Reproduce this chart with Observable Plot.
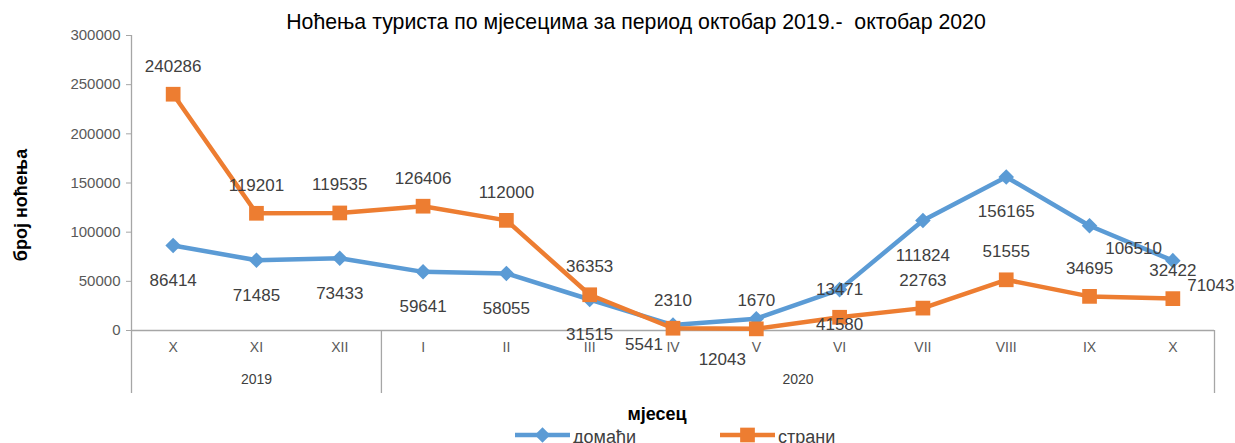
<!DOCTYPE html>
<html>
<head>
<meta charset="utf-8">
<script src="https://cdn.jsdelivr.net/npm/d3@7"></script>
<script src="https://cdn.jsdelivr.net/npm/@observablehq/plot@0.6"></script>
<style>
  html, body { margin: 0; padding: 0; background: #fff; overflow: hidden; }
  #chart svg { display: block; }
</style>
</head>
<body>
<div id="chart"></div>
<script>
// ---- data ----
const months = ["X","XI","XII","I","II","III","IV","V","VI","VII","VIII","IX","X"];
const years = ["2019","2020"];
const yearFirstIndex = [0, 3];
const yearLastIndex = [2, 12];
const domestic = [86414,71485,73433,59641,58055,31515,5541,12043,41580,111824,156165,106510,71043];
const foreign = [240286,119201,119535,126406,112000,36353,2310,1670,13471,22763,51555,34695,32422];
const seriesNames = ["домаћи","страни"];
const yTicks = [0,50000,100000,150000,200000,250000,300000];
const titleText = "Ноћења туриста по мјесецима за период октобар 2019.-  октобар 2020";
const yTitle = "број ноћења";
const xTitle = "мјесец";

// ---- style ----
const BLUE = "#5B9BD5", ORANGE = "#ED7D31", AXIS = "#a6a6a6";
const FONT = "'Liberation Sans', Arial, sans-serif";

// label offsets (layout only)
const blueOffset = i => ({6:[-29,19],7:[-34,41],11:[44,23],12:[38,25]})[i] || [0,35];
const orangeOffset = i => [0,-28];

const bounds = [yearFirstIndex[0] - 0.5, ...yearLastIndex.map(i => i + 0.5)];
const yearCenters = years.map((_, k) => (yearFirstIndex[k] + yearLastIndex[k]) / 2);

const labelMarks = [];
domestic.forEach((v, i) => {
  const [dx, dy] = blueOffset(i);
  labelMarks.push(Plot.text([i], {x: d => d, y: d => domestic[d], text: d => String(domestic[d]), dx, dy, fill: "#404040", fontSize: 17}));
});
foreign.forEach((v, i) => {
  const [dx, dy] = orangeOffset(i);
  labelMarks.push(Plot.text([i], {x: d => d, y: d => foreign[d], text: d => String(foreign[d]), dx, dy, fill: "#404040", fontSize: 17}));
});

const chart = Plot.plot({
  width: 1235,
  height: 443,
  marginLeft: 131,
  marginRight: 21,
  marginTop: 35,
  marginBottom: 113,
  style: {fontFamily: FONT, background: "#fff", overflow: "visible"},
  x: {type: "linear", domain: [-0.5, 12.5], axis: null},
  y: {domain: [0, 300000], axis: null},
  marks: [
    Plot.axisY({ticks: yTicks, tickSize: 5, tickPadding: 6, tickFormat: d => String(d), fontSize: 15, color: "#595959", label: null}),
    Plot.ruleY([0], {stroke: AXIS, strokeWidth: 1.3}),
    Plot.ruleX([bounds[0]], {stroke: AXIS, strokeWidth: 1.3}),
    Plot.ruleX(bounds, {x: d => d, stroke: AXIS, strokeWidth: 1.3, insetTop: 295, insetBottom: -63}),
    Plot.text(months, {x: (d, i) => i, text: d => d, frameAnchor: "bottom", dy: 21, fill: "#595959", fontSize: 14}),
    Plot.text(years, {x: (d, i) => yearCenters[i], text: d => d, frameAnchor: "bottom", dy: 53, fill: "#404040", fontSize: 14}),
    Plot.line(domestic, {x: (d, i) => i, y: d => d, stroke: BLUE, strokeWidth: 4.5}),
    Plot.dot(domestic, {x: (d, i) => i, y: d => d, symbol: "diamond2", r: 7, fill: BLUE, stroke: "none"}),
    Plot.line(foreign, {x: (d, i) => i, y: d => d, stroke: ORANGE, strokeWidth: 4.5}),
    Plot.dot(foreign, {x: (d, i) => i, y: d => d, symbol: "square", r: 8.3, fill: ORANGE, stroke: "none"}),
    ...labelMarks
  ]
});

const svg = d3.select(chart);
svg.selectAll('g[aria-label="y-axis tick"] path').attr("stroke", AXIS);

svg.append("text").attr("x", 636).attr("y", 29).attr("text-anchor", "middle")
  .attr("font-size", 21.3).attr("fill", "#000").attr("font-family", FONT).text(titleText);

svg.append("text").attr("transform", "translate(27,205) rotate(-90)").attr("text-anchor", "middle")
  .attr("font-size", 18).attr("font-weight", "bold").attr("fill", "#000").attr("font-family", FONT).text(yTitle);

svg.append("text").attr("x", 657).attr("y", 420).attr("text-anchor", "middle")
  .attr("font-size", 18).attr("font-weight", "bold").attr("fill", "#000").attr("font-family", FONT).text(xTitle);

// legend
const legend = [
  {name: seriesNames[0], color: BLUE, sym: d3.symbolDiamond2, size: 154, x: 515},
  {name: seriesNames[1], color: ORANGE, sym: d3.symbolSquare, size: 216, x: 720}
];
const lg = svg.append("g").attr("font-family", FONT).attr("text-anchor", "start");
legend.forEach(L => {
  lg.append("line").attr("x1", L.x).attr("x2", L.x + 55).attr("y1", 435).attr("y2", 435)
    .attr("stroke", L.color).attr("stroke-width", 4.5);
  lg.append("path").attr("d", d3.symbol(L.sym, L.size)()).attr("transform", `translate(${L.x + 27.5},435)`).attr("fill", L.color);
  lg.append("text").attr("x", L.x + 58).attr("y", 443).attr("font-size", 18).attr("fill", "#404040").text(L.name);
});

document.getElementById("chart").appendChild(chart);
</script>
</body>
</html>
